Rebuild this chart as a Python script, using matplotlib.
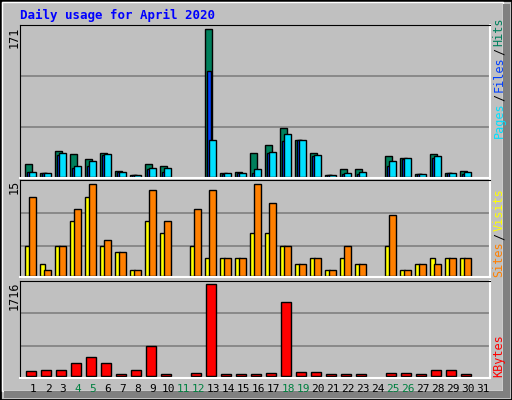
import matplotlib
matplotlib.use('Agg')
import matplotlib.pyplot as plt
from matplotlib.patches import Rectangle
import numpy as np

days = np.arange(1, 32)
hits = [15, 4, 30, 26, 21, 27, 7, 2, 15, 13, 0, 0, 171, 4, 5, 28, 37, 56, 43, 27,
        2, 9, 9, 0, 24, 22, 3, 26, 4, 7, 0]
files = [5, 4, 25, 10, 12, 25, 6, 2, 9, 6, 0, 0, 123, 3, 4, 4, 27, 42, 43, 24,
         2, 3, 3, 0, 12, 21, 3, 22, 4, 3, 0]
pages = [6, 4, 28, 12, 18, 26, 6, 2, 10, 10, 0, 0, 43, 4, 4, 9, 29, 50, 43, 25,
         2, 4, 5, 0, 18, 22, 3, 24, 4, 5, 0]
visits = [5, 2, 5, 9, 13, 5, 4, 1, 9, 7, 0, 5, 3, 3, 3, 7, 7, 5, 2, 3,
          1, 3, 2, 0, 5, 1, 2, 3, 3, 3, 0]
sites = [13, 1, 5, 11, 15, 6, 4, 1, 14, 9, 0, 11, 14, 3, 3, 15, 12, 5, 2, 3,
         1, 5, 2, 0, 10, 1, 2, 2, 3, 3, 0]
kbytes = [81, 100, 100, 232, 344, 232, 25, 100, 551, 25, 0, 44, 1716, 25, 25, 25, 44, 1377, 63, 63,
          25, 25, 25, 0, 44, 44, 25, 100, 100, 25, 0]
weekend = [4, 5, 11, 12, 18, 19, 25, 26]

W, H = 512, 400
BG = '#c0c0c0'
fig = plt.figure(figsize=(W / 100, H / 100), dpi=100)
fig.patch.set_facecolor(BG)
mono = 'DejaVu Sans Mono'

# outer frame / bevel
fig.add_artist(Rectangle((0, 0), 1, 1, transform=fig.transFigure, fill=False, edgecolor='black', lw=2))
fig.add_artist(Rectangle((2 / W, 9 / H), (W - 11) / W, (H - 11) / H, transform=fig.transFigure,
                         fill=False, edgecolor='white', lw=1))
fig.add_artist(Rectangle((4 / W, 2 / H), (W - 6) / W, 7 / H, transform=fig.transFigure,
                         facecolor='#808080', edgecolor='none'))
fig.add_artist(Rectangle((W - 9, 2), 7, H - 6, transform=None,
                         facecolor='#808080', edgecolor='none'))


def px_axes(top, bottom, ylim, grid):
    ax = fig.add_axes([20 / W, 1 - bottom / H, 470 / W, (bottom - top) / H])
    ax.set_facecolor(BG)
    ax.set_xlim(0.133, 31.47)
    ax.set_ylim(*ylim)
    for g in grid:
        ax.axhline(g, color='#808080', lw=1.2, zorder=0)
    ax.set_xticks([])
    ax.set_yticks([])
    for s in ['top', 'left']:
        ax.spines[s].set_color('black')
    for s in ['bottom', 'right']:
        ax.spines[s].set_color('white')
        ax.spines[s].set_linewidth(1.5)
    return ax


def bars(ax, vals, off, width, color):
    for d, v in zip(days, vals):
        if v > 0:
            ax.bar(d + off, v, width=width, align='edge', color=color, edgecolor='black', lw=1)


# top: hits/files/pages
ax1 = px_axes(25, 178, (-1.5, 176), [116.5, 57.5])
bars(ax1, hits, -0.533, 0.467, '#00805c')
bars(ax1, files, -0.42, 0.3, '#0040ff')
bars(ax1, pages, -0.267, 0.467, '#00e0ff')

# middle: visits/sites
ax2 = px_axes(180, 277, (-0.1, 15.7), [10.3, 4.94])
bars(ax2, visits, -0.51, 0.3, '#ffff00')
bars(ax2, sites, -0.245, 0.467, '#ff8000')

# bottom: kbytes
ax3 = px_axes(281, 378, (-43, 1778), [1171, 552])
bars(ax3, kbytes, -0.445, 0.667, '#ff0000')


def ft(x, y, s, **kw):
    fig.text(x / W, 1 - y / H, s, family=mono, **kw)


ft(20, 15, 'Daily usage for April 2020', color='#0000ff', fontsize=9, fontweight='bold', va='center')
ft(14, 27, str(max(hits)), rotation=90, fontsize=8.5, ha='center', va='top')
ft(14, 180, str(max(sites)), rotation=90, fontsize=8.5, ha='center', va='top')
ft(14, 282, str(max(kbytes)), rotation=90, fontsize=8.5, ha='center', va='top')


# right-side legends (bottom to top)
def vlegend(y_bottom, parts):
    y = y_bottom
    for s, c in parts:
        ft(499, y, s, rotation=90, fontsize=8.5, color=c, ha='center', va='bottom')
        y -= len(s) * 6.7 + 3


vlegend(138, [('Pages', '#00e0ff'), ('/', '#000000'), ('Files', '#0040ff'), ('/', '#000000'), ('Hits', '#00805c')])
vlegend(277, [('Sites', '#ff8000'), ('/', '#000000'), ('Visits', '#ffff00')])
vlegend(377, [('KBytes', '#ff0000')])

for d in days:
    ft(33 + (d - 1) * 15, 389, str(d), fontsize=8, ha='center', va='center',
       color='#008040' if d in weekend else 'black')

fig.savefig('out.png', dpi=100, facecolor=BG)
